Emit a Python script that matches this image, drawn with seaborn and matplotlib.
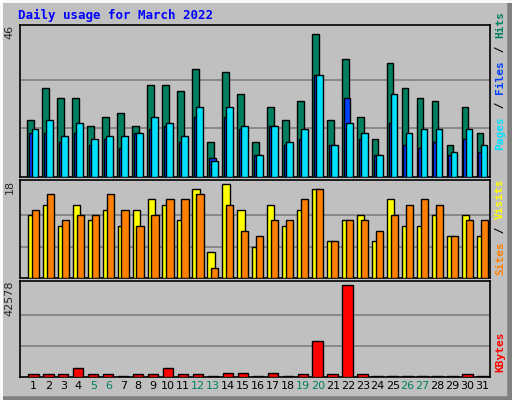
import numpy as np
import matplotlib
matplotlib.use("Agg")
import matplotlib.pyplot as plt
import seaborn as sns

days = list(range(1, 32))
hits = [18,28,25,25,16,19,20,16,29,29,27,34,11,33,26,11,22,18,24,45,18,37,19,12,36,28,25,24,10,22,14]
files = [15,18,13,17,12,13,13,14,19,17,13,22,5,22,16,7,16,11,15,32,10,17,14,7,26,14,15,15,8,15,10]
pages = [14,14,11,14,10,12,9,14,15,16,11,19,6,19,15,7,16,10,12,32,10,25,12,7,17,10,9,11,7,12,8]
sites = [12,14,10,14,11,13,10,13,15,14,11,17,5,18,13,6,14,10,13,17,7,11,12,7,15,10,10,12,8,12,8]
visits = [13,16,11,12,12,16,13,10,12,15,15,16,2,14,9,8,11,11,15,17,7,11,11,9,12,14,15,14,8,11,11]
kbytes = [1200,1200,1200,4000,1200,1200,500,1200,1200,4000,1200,1200,500,1700,1700,500,1700,500,
          1200,16500,1200,42578,1200,500,500,500,500,500,500,1200,500]
weekend = [5,6,12,13,19,20,26,27]

sns.set_style("white")
plt.rcParams['font.family'] = ['DejaVu Sans Mono', 'DejaVu Sans']
BG = "#c0c0c0"
fig = plt.figure(figsize=(5.12, 4.0), dpi=100, facecolor=BG)
H = 400.0
def mkax(top, bot):
    return fig.add_axes([20/512, 1-bot/H, 470/512, (bot-top)/H], facecolor=BG)
ax1 = mkax(25, 177)
ax2 = mkax(180, 278)
ax3 = mkax(281, 377)
x = np.array(days, dtype=float)
ek = dict(edgecolor="black", linewidth=1, align="edge", zorder=3)
ax1.bar(x-0.4, hits, 0.45, color="#008060", **ek)
ax1.bar(x-0.28, pages, 0.45, color="#0040ff", **ek)
ax1.bar(x-0.13, files, 0.45, color="#00e0ff", **ek)
ax2.bar(x-0.38, sites, 0.48, color="#ffff00", **ek)
ax2.bar(x-0.12, visits, 0.48, color="#ff8000", **ek)
ax3.bar(x-0.36, kbytes, 0.7, color="#ff0000", **ek)

for ax, mx, lab in [(ax1, 46, "46"), (ax2, 18, "18"), (ax3, 42578, "42578")]:
    ax.set_xlim(0.1, 31.5)
    ax.set_ylim(0, mx*1.04)
    for g in (mx/3, 2*mx/3):
        ax.axhline(g, color="#808080", lw=1.2, zorder=1)
    ax.set_yticks([])
    ax.set_xticks([])
    for s in ax.spines.values():
        s.set_color("black"); s.set_linewidth(1.2)
    ax.text(-0.012, 1.0, lab, transform=ax.transAxes, rotation=90, ha="right", va="top",
            fontsize=8, family="DejaVu Sans")
ax3.set_xticks(days)
ax3.set_xticklabels([str(d) for d in days], fontsize=8, family="DejaVu Sans")
for d, t in zip(days, ax3.get_xticklabels()):
    t.set_color("#008060" if d in weekend else "black")
ax3.tick_params(axis="x", length=0, pad=3)

fig.text(18/512, 1-15/H, "Daily usage for March 2022", color="#0000ff", fontsize=9,
         fontweight="bold", va="center", ha="left")

def vstack(xp, ybot, parts):
    y = ybot
    for s, c in parts:
        fig.text(xp/512, 1-y/H, s, rotation=90, color=c, fontsize=8, ha="center", va="bottom",
                 fontweight="bold")
        y -= len(s)*7.0
vstack(500, 150, [("Pages", "#00e0ff"), (" / ", "black"), ("Files", "#0040ff"), (" / ", "black"), ("Hits", "#008060")])
vstack(500, 275, [("Sites", "#ff8000"), (" / ", "black"), ("Visits", "#ffff00")])
vstack(500, 372, [("KBytes", "#ff0000")])

fig.add_artist(plt.Line2D([0, 1], [0.003, 0.003], color="#808080", lw=4, transform=fig.transFigure))
fig.add_artist(plt.Line2D([0.997, 0.997], [0, 1], color="#808080", lw=4, transform=fig.transFigure))
fig.add_artist(plt.Line2D([0.002, 0.002], [0, 1], color="white", lw=2, transform=fig.transFigure))
fig.add_artist(plt.Line2D([0, 1], [0.998, 0.998], color="white", lw=2, transform=fig.transFigure))
fig.savefig("out.png", dpi=100, facecolor=BG)
